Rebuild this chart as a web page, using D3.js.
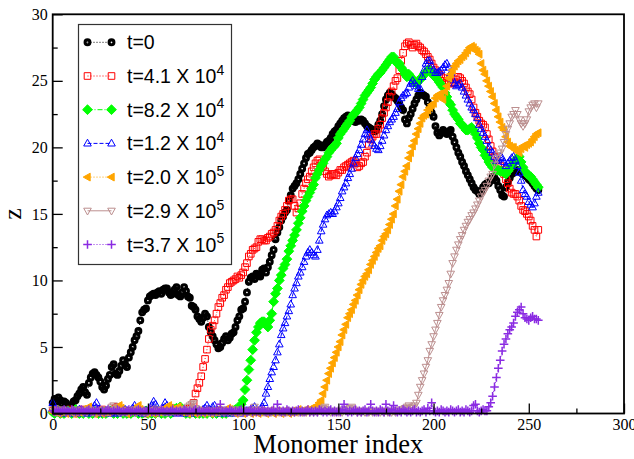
<!DOCTYPE html>
<html>
<head>
<meta charset="utf-8">
<script src="https://cdn.jsdelivr.net/npm/d3@7"></script>
<style>
body { margin: 0; background: #fff; }
</style>
</head>
<body>
<div id="chart"></div>
<script>
// z value for each monomer index 0..255
const zT0 = [
0.8,1.1,0.9,1.2,1.0,0.7,0.9,0.8,0.5,0.6,
0.6,0.9,1.0,1.3,1.5,1.8,2.0,1.6,1.4,2.3,
2.7,3.0,3.1,2.9,2.7,2.4,2.0,1.8,2.1,2.6,
2.9,3.5,3.7,3.0,2.9,3.2,3.6,4.0,3.7,3.5,
4.2,4.6,5.0,5.5,5.8,6.2,7.0,7.6,7.8,7.9,
8.5,8.8,8.9,9.0,8.9,9.1,9.2,9.0,9.3,9.4,
9.4,9.1,8.9,9.0,9.3,9.5,8.9,8.8,9.1,9.5,
9.2,8.8,8.7,8.1,8.0,7.8,7.3,7.1,6.9,7.2,
7.5,7.3,6.5,6.1,5.8,5.5,5.2,4.9,5.0,5.3,
5.6,5.8,5.5,5.7,6.0,6.1,6.5,7.0,7.3,7.8,
7.9,8.4,9.1,9.9,10.2,10.3,10.1,10.5,10.4,10.3,
10.8,10.9,10.6,11.0,11.4,11.9,12.3,13.1,13.6,14.0,
14.5,14.8,15.1,15.3,16.0,16.4,16.9,17.1,17.3,17.6,
18.0,18.4,18.8,19.2,19.5,19.6,19.8,20.0,20.1,20.3,
20.2,20.0,20.0,20.2,20.4,20.5,20.7,21.0,21.2,21.3,
21.6,21.8,22.0,22.2,22.3,22.4,22.2,22.0,22.0,21.9,
22.1,22.0,22.1,22.0,21.8,21.6,21.5,21.4,21.3,21.2,
21.3,21.7,22.0,22.5,23.1,23.6,23.9,24.1,24.0,23.8,
23.7,23.5,23.3,23.0,22.8,22.1,21.8,22.2,22.5,22.9,
23.3,23.6,23.9,24.1,24.0,23.9,23.8,23.4,23.0,22.6,
22.3,21.6,21.1,20.9,21.1,21.3,21.1,21.0,21.2,21.3,
20.8,20.4,20.0,19.6,19.3,18.9,18.6,18.2,17.9,17.6,
17.3,17.0,16.8,16.7,16.5,16.7,17.0,17.2,17.3,17.3,
17.5,17.8,17.7,17.5,17.1,16.8,16.4,16.3,17.0,17.4,
17.7,18.0,18.1,18.3,18.2,18.3,18.1,18.0,17.9,17.8,
17.6,17.5,17.3,17.1,16.9,16.8
];

const zT41e4 = [
0.2,0.1,0.3,0.1,0.2,0.0,0.1,0.2,0.1,0.3,
0.2,0.1,0.0,0.2,0.1,0.2,0.3,0.1,0.2,0.1,
0.1,0.2,0.0,0.1,0.2,0.1,0.3,0.2,0.1,0.2,
0.1,0.2,0.3,0.4,0.5,0.3,0.2,0.1,0.2,0.1,
0.0,0.1,0.2,0.1,0.3,0.2,0.1,0.2,0.1,0.0,
0.2,0.1,0.2,0.3,0.1,0.2,0.1,0.2,0.0,0.1,
0.2,0.1,0.3,0.2,0.1,0.2,0.1,0.2,0.1,0.3,
0.2,0.3,0.4,0.4,0.8,1.5,1.9,2.3,2.8,3.5,
4.1,4.8,5.6,6.3,6.6,7.0,7.5,8.0,8.3,8.7,
8.9,9.3,9.5,9.8,9.9,10.0,10.1,10.3,10.2,10.4,
10.6,11.0,11.3,11.8,12.0,12.3,12.4,12.5,12.9,13.1,
13.1,13.0,13.0,13.2,13.3,13.5,13.6,13.8,14.1,14.5,
14.8,15.0,15.3,15.6,16.0,16.1,16.1,15.6,15.1,15.4,
15.8,16.5,16.9,17.3,17.6,17.8,18.2,18.5,18.8,19.0,
19.1,18.8,18.6,18.2,18.0,17.8,17.9,18.0,18.0,17.9,
18.1,18.3,18.3,18.5,18.6,18.7,18.8,18.9,19.0,18.8,
18.5,18.6,18.8,18.9,19.3,19.6,20.2,20.6,20.8,21.0,
21.0,21.4,21.7,22.2,22.6,23.0,23.4,23.8,24.2,24.6,
25.0,25.2,25.8,26.5,27.1,27.6,27.8,27.9,27.7,27.5,
27.7,27.8,27.6,27.5,27.3,27.2,27.0,26.8,26.6,26.3,
26.0,25.8,25.6,25.5,25.3,25.2,25.0,25.0,24.9,24.8,
24.8,24.9,25.1,25.3,25.2,25.0,24.8,24.5,24.2,24.0,
23.6,23.0,22.6,22.3,22.0,21.8,21.7,21.5,21.0,20.6,
20.1,19.7,19.3,19.0,18.8,18.6,18.3,18.0,17.6,17.3,
16.9,16.6,16.5,16.5,16.3,16.0,15.6,15.3,15.2,15.0,
14.8,14.5,14.1,13.8,13.3,13.8
];

const zT82e4 = [
0.1,0.0,0.1,0.2,0.0,0.1,0.0,0.1,0.2,0.1,
0.0,0.1,0.3,0.1,0.0,0.1,0.0,0.2,0.1,0.0,
0.1,0.0,0.1,0.2,0.0,0.1,0.0,0.1,0.0,0.1,
0.2,0.1,0.0,0.1,0.0,0.1,0.2,0.0,0.1,0.0,
0.1,0.0,0.1,0.2,0.1,0.0,0.1,0.0,0.1,0.2,
0.0,0.1,0.0,0.1,0.0,0.2,0.1,0.0,0.1,0.0,
0.1,0.2,0.0,0.1,0.3,0.4,0.3,0.5,0.2,0.1,
0.0,0.1,0.0,0.1,0.2,0.0,0.1,0.0,0.1,0.0,
0.1,0.0,0.2,0.1,0.0,0.1,0.0,0.1,0.2,0.0,
0.1,0.0,0.1,0.2,0.1,0.2,0.3,0.3,0.4,0.7,
1.0,1.8,2.5,3.3,4.0,4.8,5.5,6.1,6.5,6.8,
6.9,6.9,6.7,6.5,7.0,7.5,8.4,9.0,9.4,10.0,
10.4,10.9,11.2,11.6,12.2,12.6,13.0,13.4,13.8,14.3,
14.7,15.2,15.6,16.0,16.3,16.6,16.9,17.2,17.7,18.0,
18.3,18.6,18.8,19.1,19.3,19.6,19.8,20.0,20.1,20.3,
20.7,21.0,21.2,21.4,21.6,21.8,22.0,22.3,22.5,22.6,
22.8,23.0,23.3,23.6,23.9,24.1,24.3,24.5,24.8,25.1,
25.3,25.5,25.6,25.8,26.0,26.2,26.4,26.6,26.8,26.8,
26.5,26.3,26.3,26.0,25.8,25.5,25.3,25.5,25.3,25.1,
24.9,24.8,25.0,25.1,25.3,25.5,25.6,25.8,25.8,25.6,
25.4,25.3,25.1,24.9,24.7,24.5,24.1,23.8,23.4,23.2,
22.8,22.5,22.3,22.1,21.8,21.7,21.5,21.3,21.3,21.4,
21.5,21.3,21.0,20.7,20.3,20.0,19.8,19.4,19.2,18.9,
18.7,18.5,18.4,18.3,18.3,18.2,18.2,18.1,18.0,18.2,
18.4,18.6,18.8,19.0,19.2,19.3,18.9,18.5,18.2,18.0,
17.9,17.8,17.6,17.4,17.2,17.0
];

const zT12e4 = [
0.8,0.3,0.1,0.2,0.1,0.0,0.1,0.2,0.1,0.0,
0.1,0.2,0.1,0.0,0.3,0.1,0.2,0.1,0.0,0.1,
0.2,0.3,0.6,0.8,0.3,0.1,0.0,0.1,0.2,0.1,
0.0,0.1,0.2,0.1,0.0,0.1,0.2,0.1,0.3,0.2,
0.1,0.2,0.4,0.6,0.3,0.1,0.2,0.0,0.1,0.2,
0.1,0.3,0.6,0.9,0.7,0.2,0.1,0.2,0.4,0.8,
0.6,0.2,0.1,0.4,0.1,0.0,0.1,0.2,0.1,0.0,
0.1,0.2,0.1,0.0,0.1,0.2,0.1,0.2,0.1,0.3,
0.4,0.6,0.3,0.2,0.5,0.6,0.2,0.1,0.0,0.1,
0.2,0.1,0.0,0.1,0.2,0.1,0.0,0.1,0.2,0.1,
0.0,0.1,0.2,0.1,0.3,0.4,0.5,0.2,0.1,0.3,
0.5,0.8,1.5,2.0,2.6,3.1,3.5,4.0,4.6,5.2,
5.9,6.4,6.8,7.3,7.7,8.2,8.9,9.4,9.8,10.3,
10.6,11.0,11.4,11.8,12.1,12.3,12.1,11.9,11.8,12.3,
13.0,13.7,14.2,14.6,14.9,15.0,15.1,15.0,15.2,15.5,
15.8,16.2,16.7,17.0,17.3,17.7,18.0,18.4,18.8,19.2,
19.5,19.8,20.2,20.6,21.0,21.3,20.9,20.6,20.3,20.1,
19.9,19.8,20.1,20.5,20.9,21.3,21.6,21.9,22.1,22.3,
22.6,22.9,23.4,23.7,23.9,24.0,24.1,24.5,24.8,25.0,
24.8,24.6,24.4,24.4,25.3,25.8,26.3,26.5,26.5,26.1,
25.8,25.6,25.6,25.7,25.8,26.0,26.2,26.3,26.0,25.6,
25.1,24.8,24.6,24.7,24.8,24.5,24.2,23.9,23.6,23.3,
23.0,22.8,22.5,22.2,21.7,21.4,21.1,20.8,20.5,20.0,
19.8,19.6,19.3,19.0,19.1,19.3,19.2,18.9,18.6,18.8,
19.0,19.2,19.3,19.0,18.6,18.1,17.5,16.8,16.5,16.3,
15.9,15.7,15.5,15.8,16.3,16.6
];

const zT20e5 = [
0.1,0.2,0.1,0.0,0.1,0.2,0.1,0.0,0.1,0.2,
0.1,0.0,0.1,0.2,0.1,0.2,0.3,0.2,0.4,0.5,
0.2,0.1,0.0,0.1,0.2,0.1,0.0,0.1,0.2,0.1,
0.2,0.3,0.4,0.3,0.5,0.6,0.4,0.2,0.1,0.0,
0.1,0.2,0.1,0.3,0.4,0.6,0.3,0.2,0.1,0.0,
0.1,0.2,0.1,0.0,0.1,0.2,0.1,0.2,0.3,0.4,
0.5,0.6,0.4,0.3,0.2,0.4,0.5,0.3,0.1,0.2,
0.1,0.0,0.1,0.2,0.1,0.0,0.1,0.2,0.1,0.0,
0.1,0.2,0.1,0.0,0.1,0.2,0.1,0.3,0.2,0.1,
0.2,0.3,0.4,0.3,0.2,0.1,0.0,0.1,0.2,0.1,
0.0,0.1,0.2,0.1,0.0,0.1,0.2,0.1,0.0,0.1,
0.2,0.1,0.0,0.1,0.2,0.1,0.0,0.1,0.2,0.1,
0.0,0.1,0.2,0.1,0.0,0.1,0.2,0.1,0.2,0.3,
0.1,0.2,0.1,0.3,0.2,0.3,0.4,0.3,0.5,0.6,
0.8,1.0,1.5,2.0,2.5,3.0,3.4,3.8,4.2,4.6,
5.0,5.4,5.9,6.3,6.7,7.2,7.5,7.8,8.2,8.5,
8.9,9.3,9.7,10.0,10.3,10.5,10.8,11.2,11.5,11.8,
12.1,12.4,12.6,13.0,13.3,13.5,13.8,14.2,14.6,15.0,
15.6,16.1,16.7,17.2,17.8,18.2,18.6,19.2,19.6,20.1,
20.5,21.0,21.4,21.8,22.2,22.4,22.5,22.8,23.0,23.2,
23.3,23.7,23.9,24.0,23.8,23.6,24.2,24.6,25.2,25.5,
25.8,26.1,26.3,26.5,26.6,26.8,26.9,27.1,27.3,27.5,
27.6,27.5,27.3,27.2,27.0,26.3,25.8,25.5,25.0,24.6,
24.2,23.8,23.3,22.8,22.3,21.9,21.5,21.3,20.8,20.4,
20.1,20.0,20.0,19.8,19.7,19.6,19.9,20.1,20.0,20.2,
20.3,20.4,20.6,20.8,21.0,21.1
];

const zT29e5 = [
0.3,0.2,0.1,0.2,0.1,0.3,0.2,0.1,0.2,0.1,
0.2,0.1,0.3,0.2,0.1,0.2,0.1,0.2,0.1,0.3,
0.2,0.1,0.2,0.1,0.2,0.1,0.2,0.3,0.2,0.1,
0.2,0.5,0.6,0.3,0.2,0.1,0.2,0.1,0.2,0.1,
0.2,0.1,0.2,0.3,0.1,0.2,0.1,0.2,0.1,0.2,
0.1,0.2,0.1,0.2,0.3,0.2,0.1,0.2,0.1,0.2,
0.1,0.2,0.1,0.2,0.1,0.2,0.1,0.2,0.3,0.2,
0.3,0.5,0.6,0.7,0.8,0.4,0.3,0.2,0.1,0.2,
0.1,0.2,0.1,0.2,0.1,0.2,0.1,0.2,0.1,0.2,
0.1,0.2,0.1,0.2,0.1,0.2,0.3,0.2,0.1,0.2,
0.1,0.2,0.1,0.2,0.1,0.2,0.5,0.3,0.2,0.1,
0.2,0.1,0.2,0.1,0.2,0.1,0.2,0.1,0.2,0.1,
0.2,0.1,0.2,0.1,0.2,0.1,0.2,0.1,0.2,0.1,
0.2,0.1,0.2,0.1,0.2,0.1,0.2,0.1,0.2,0.1,
0.2,0.3,0.4,0.5,0.3,0.2,0.1,0.2,0.1,0.2,
0.1,0.2,0.1,0.3,0.2,0.3,0.4,0.5,0.3,0.2,
0.1,0.2,0.1,0.2,0.1,0.2,0.1,0.2,0.1,0.2,
0.1,0.2,0.1,0.2,0.1,0.2,0.1,0.2,0.1,0.2,
0.1,0.2,0.3,0.2,0.3,0.4,0.5,0.6,0.4,0.5,
0.6,0.8,1.4,2.0,2.5,3.0,3.5,4.0,4.7,5.2,
5.8,6.3,6.8,7.4,8.0,8.5,8.9,9.3,9.8,10.5,
11.3,11.8,12.3,12.7,13.1,13.4,13.8,14.1,14.4,14.6,
14.9,15.1,15.4,15.7,16.0,16.3,16.6,16.8,17.1,17.5,
17.8,18.0,18.7,19.2,19.4,19.6,19.9,20.4,21.0,21.4,
21.8,22.3,22.5,22.8,22.5,22.1,21.8,21.6,21.8,22.1,
22.7,23.0,23.2,23.3,23.0,23.3
];

const zT37e5 = [
0.2,0.1,0.3,0.2,0.1,0.2,0.3,0.1,0.2,0.1,
0.3,0.2,0.1,0.2,0.1,0.3,0.2,0.1,0.2,0.3,
0.1,0.2,0.1,0.3,0.2,0.1,0.2,0.1,0.2,0.3,
0.2,0.1,0.2,0.1,0.3,0.2,0.1,0.2,0.1,0.2,
0.3,0.1,0.2,0.1,0.2,0.3,0.2,0.1,0.2,0.1,
0.2,0.3,0.1,0.2,0.1,0.2,0.1,0.3,0.2,0.1,
0.2,0.1,0.2,0.3,0.1,0.2,0.1,0.2,0.1,0.3,
0.2,0.1,0.2,0.1,0.2,0.3,0.1,0.2,0.1,0.2,
0.1,0.3,0.2,0.1,0.2,0.1,0.3,0.2,0.7,0.2,
0.1,0.2,0.1,0.3,0.2,0.1,0.2,0.1,0.2,0.3,
0.1,0.2,0.1,0.2,0.3,0.1,0.2,0.1,0.2,0.1,
0.3,0.2,0.1,0.2,0.1,0.2,0.3,0.1,0.7,0.2,
0.1,0.2,0.1,0.3,0.2,0.1,0.2,0.1,0.2,0.3,
0.1,0.2,0.1,0.2,0.3,0.1,0.2,0.1,0.2,0.1,
0.3,0.2,0.1,0.2,0.1,0.2,0.3,0.1,0.2,0.1,
0.2,0.1,0.3,0.7,0.2,0.1,0.2,0.1,0.2,0.3,
0.1,0.2,0.1,0.2,0.3,0.1,0.2,0.7,0.2,0.1,
0.2,0.1,0.3,0.2,0.1,0.7,0.2,0.1,0.3,0.6,
0.2,0.1,0.2,0.1,0.3,0.2,0.1,0.2,0.1,0.2,
0.3,0.1,0.2,0.1,0.2,0.3,0.1,0.4,0.2,0.8,
0.2,0.1,0.2,0.1,0.3,0.2,0.1,0.2,0.1,0.3,
0.2,0.1,0.2,0.3,0.1,0.2,0.1,0.3,0.2,0.1,
0.2,0.6,0.7,0.2,0.1,0.2,0.3,0.2,0.2,0.5,
0.8,1.3,2.0,2.7,3.4,4.0,4.7,5.2,5.6,6.0,
6.3,6.5,6.8,7.3,7.6,7.8,8.0,7.5,7.2,7.1,
7.0,7.2,7.3,7.1,7.1,7.0
];

const labels = ["t=0", "t=4.1 X 10", "t=8.2 X 10", "t=1.2 X 10", "t=2.0 X 10", "t=2.9 X 10", "t=3.7 X 10"];
const exponents = ["", "4", "4", "4", "5", "5", "5"];
const xTicks = [0, 50, 100, 150, 200, 250, 300];
const xMinor = [25, 75, 125, 175, 225, 275];
const yTicks = [0, 5, 10, 15, 20, 25, 30];
const yMinor = [2.5, 7.5, 12.5, 17.5, 22.5, 27.5];

const width = 634, height = 459;

// marker shapes (relative to point)
const shapes = {
  circle: "M2.4,0A2.4,2.4 0 1,1 -2.4,0A2.4,2.4 0 1,1 2.4,0Z",
  square: "M-3.3,-3.3H3.3V3.3H-3.3Z",
  diamond: "M0,-4.9L4.9,0L0,4.9L-4.9,0Z",
  up: "M0,-4.2L3.8,2.6L-3.8,2.6Z",
  left: "M-4.3,0L2.7,-3.9L2.7,3.9Z",
  down: "M0,4.2L3.8,-2.6L-3.8,-2.6Z",
  plus: "M-4.3,0H4.3M0,-4.3V4.3"
};

const series = [
  {values: zT0, color: "#000000", shape: "circle", fill: "none", sw: 3.1, dash: "1,2"},
  {values: zT41e4, color: "#ff0000", shape: "square", fill: "none", sw: 1, dash: "1,2"},
  {values: zT82e4, color: "#00ff00", shape: "diamond", fill: "#00ff00", sw: 1, dash: "5,2,1,2"},
  {values: zT12e4, color: "#0000ff", shape: "up", fill: "none", sw: 1, dash: "4,2"},
  {values: zT20e5, color: "#ffa500", shape: "left", fill: "#ffa500", sw: 1, dash: "1,2"},
  {values: zT29e5, color: "#bc8f8f", shape: "down", fill: "none", sw: 1, dash: null},
  {values: zT37e5, color: "#8a2be2", shape: "plus", fill: "none", sw: 1.5, dash: "1,2"}
];

const svg = d3.select("#chart")
  .append("svg")
  .attr("width", width)
  .attr("height", height);

const x = d3.scaleLinear().domain([0, 300]).range([52.7, 624]);
const y = d3.scaleLinear().domain([0, 30]).range([413.5, 14.3]);

const line = d3.line()
  .x((d, i) => x(i))
  .y(d => y(d));

series.forEach(s => {
  const g = svg.append("g");
  g.append("path")
    .attr("d", line(s.values))
    .attr("fill", "none")
    .attr("stroke", s.color)
    .attr("stroke-width", 1)
    .attr("stroke-dasharray", s.dash);
  g.selectAll("path.m")
    .data(s.values)
    .join("path")
    .attr("class", "m")
    .attr("transform", (d, i) => `translate(${x(i)},${y(d)})`)
    .attr("d", shapes[s.shape])
    .attr("fill", s.fill)
    .attr("stroke", s.color)
    .attr("stroke-width", s.sw);
});

// axes, ticks pointing inwards
const styleAxis = g => {
  g.select(".domain").remove();
  g.selectAll(".tick line").attr("stroke", "#000").attr("stroke-width", 1.3);
  g.selectAll("text")
    .attr("font-family", "'Liberation Serif', 'Times New Roman', serif")
    .attr("font-size", 16)
    .attr("fill", "#000");
};

svg.append("g")
  .attr("transform", `translate(0,${y(0)})`)
  .call(d3.axisBottom(x).tickValues(xTicks).tickSizeInner(-10).tickSizeOuter(0).tickPadding(5))
  .call(styleAxis);

svg.append("g")
  .attr("transform", `translate(0,${y(0)})`)
  .call(d3.axisBottom(x).tickValues(xMinor).tickSizeInner(-5).tickSizeOuter(0).tickFormat(""))
  .call(styleAxis);

svg.append("g")
  .attr("transform", `translate(${x(0)},0)`)
  .call(d3.axisLeft(y).tickValues(yTicks).tickSizeInner(-10).tickSizeOuter(0).tickPadding(5))
  .call(styleAxis);

svg.append("g")
  .attr("transform", `translate(${x(0)},0)`)
  .call(d3.axisLeft(y).tickValues(yMinor).tickSizeInner(-5).tickSizeOuter(0).tickFormat(""))
  .call(styleAxis);

svg.append("rect")
  .attr("x", x(0))
  .attr("y", y(30))
  .attr("width", x(300) - x(0))
  .attr("height", y(0) - y(30))
  .attr("fill", "none")
  .attr("stroke", "#000")
  .attr("stroke-width", 1.8);

svg.append("text")
  .attr("x", (x(0) + x(300)) / 2)
  .attr("y", 453)
  .attr("text-anchor", "middle")
  .attr("font-family", "'Liberation Serif', 'Times New Roman', serif")
  .attr("font-size", 26.5)
  .text("Monomer index");

svg.append("text")
  .attr("transform", `translate(21,${(y(0) + y(30)) / 2}) rotate(-90)`)
  .attr("text-anchor", "middle")
  .attr("font-family", "'Liberation Serif', 'Times New Roman', serif")
  .attr("font-size", 26)
  .text("z");

// legend
const legend = svg.append("g");
legend.append("rect")
  .attr("x", 78.5)
  .attr("y", 24.5)
  .attr("width", 153)
  .attr("height", 240)
  .attr("fill", "#fff")
  .attr("stroke", "#333")
  .attr("stroke-width", 1.2);

series.forEach((s, i) => {
  const cy = 42.3 + i * 33.7;
  const row = legend.append("g");
  row.append("line")
    .attr("x1", 87.5).attr("x2", 111.5)
    .attr("y1", cy).attr("y2", cy)
    .attr("stroke", s.color)
    .attr("stroke-width", 1)
    .attr("stroke-dasharray", s.dash);
  row.selectAll("path")
    .data([87.5, 111.5])
    .join("path")
    .attr("transform", d => `translate(${d},${cy})`)
    .attr("d", shapes[s.shape])
    .attr("fill", s.fill)
    .attr("stroke", s.color)
    .attr("stroke-width", s.sw);
  const t = row.append("text")
    .attr("x", 127)
    .attr("y", cy + 7)
    .attr("font-family", "'Liberation Sans', Arial, sans-serif")
    .attr("font-size", 19.5)
    .attr("fill", "#000")
    .text(labels[i]);
  if (exponents[i]) {
    t.append("tspan")
      .attr("dy", -8.3)
      .attr("font-size", 14)
      .text(exponents[i]);
  }
});
</script>
</body>
</html>
